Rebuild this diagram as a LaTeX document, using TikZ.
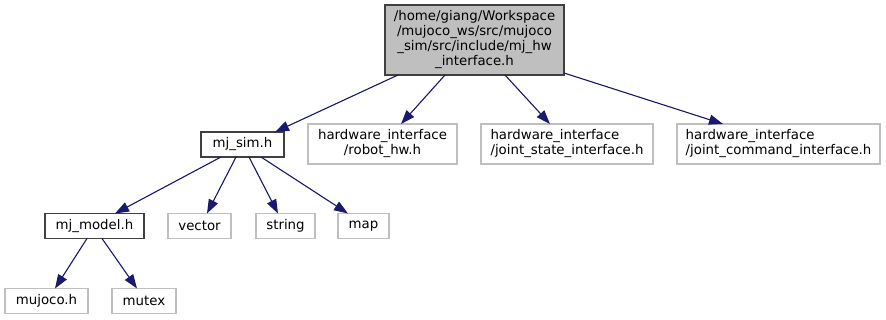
\documentclass[tikz,border=0pt]{standalone}
\usepackage{fontspec}
\setmainfont{DejaVu Sans}
\usetikzlibrary{arrows.meta}
\definecolor{edgeblue}{HTML}{191970}
\definecolor{extgray}{HTML}{BFBFBF}
\definecolor{docline}{HTML}{404040}
\tikzset{
  box/.style={rectangle, inner sep=0pt, outer sep=0pt,
    font=\fontsize{13.33}{15}\selectfont, line width=1pt},
  docnode/.style={box, draw=docline, fill=white, line width=1.3pt},
  rootnode/.style={box, draw=docline, fill=extgray, line width=1.3pt, align=center},
  extnode/.style={box, draw=extgray, fill=white, line width=1.2pt},
  dep/.style={draw=edgeblue, line width=1.1pt,
    -{Triangle[length=14pt,width=10pt]}, fill=edgeblue}
}
\begin{document}
\begin{tikzpicture}[x=1pt,y=-1pt]
\useasboundingbox (0,0) rectangle (886,320);

% top level header
\node[rootnode, minimum width=179pt, minimum height=70pt] (root) at (474.5,40)
  {/home/giang/Workspace\\/mujoco\_ws/src/mujoco\\\_sim/src/include/mj\_hw\\\_interface.h};

% second row
\node[docnode, minimum width=83pt, minimum height=25pt] (mjsim) at (242.5,144.5) {mj\_sim.h};
\node[extnode, minimum width=149pt, minimum height=40pt, align=center] (robothw) at (382.5,144)
  {hardware\_interface\\/robot\_hw.h};
\node[extnode, minimum width=172pt, minimum height=40pt, align=left] (jstate) at (567,144)
  {hardware\_interface\\/joint\_state\_interface.h};
\node[extnode, minimum width=203pt, minimum height=40pt, align=left] (jcmd) at (778.5,144)
  {hardware\_interface\\/joint\_command\_interface.h};

% third row
\node[docnode, minimum width=99pt, minimum height=25pt] (mjmodel) at (94.5,226) {mj\_model.h};
\node[extnode, minimum width=63pt, minimum height=25pt] (vector) at (199.5,226) {vector};
\node[extnode, minimum width=59pt, minimum height=25pt] (string) at (285.5,226) {string};
\node[extnode, minimum width=51pt, minimum height=25pt] (map) at (363.5,226) {map};

% bottom row
\node[extnode, minimum width=83pt, minimum height=25pt] (mujoco) at (46.5,301) {mujoco.h};
\node[extnode, minimum width=64pt, minimum height=25pt] (mutex) at (144,301) {mutex};

% include edges
\draw[dep] ([xshift=-76.5pt]root.south) -- ([xshift=32.5pt]mjsim.north);
\draw[dep] ([xshift=-29.5pt]root.south) -- ([xshift=18.5pt]robothw.north);
\draw[dep] ([xshift=30.5pt]root.south) -- ([xshift=-17pt]jstate.north);
\draw[dep] ([yshift=2pt]root.south east) -- ([xshift=-55.5pt]jcmd.north);

\draw[dep] ([xshift=-21.5pt]mjsim.south) -- ([xshift=20.5pt]mjmodel.north);
\draw[dep] ([xshift=-6.5pt]mjsim.south) -- ([xshift=7.5pt]vector.north);
\draw[dep] ([xshift=6.5pt]mjsim.south) -- ([xshift=-7.5pt]string.north);
\draw[dep] ([xshift=18.5pt]mjsim.south) -- ([xshift=-15.5pt]map.north);

\draw[dep] ([xshift=-7.5pt]mjmodel.south) -- ([xshift=8.5pt]mujoco.north);
\draw[dep] ([xshift=7.5pt]mjmodel.south) -- ([xshift=-7pt]mutex.north);
\end{tikzpicture}
\end{document}
